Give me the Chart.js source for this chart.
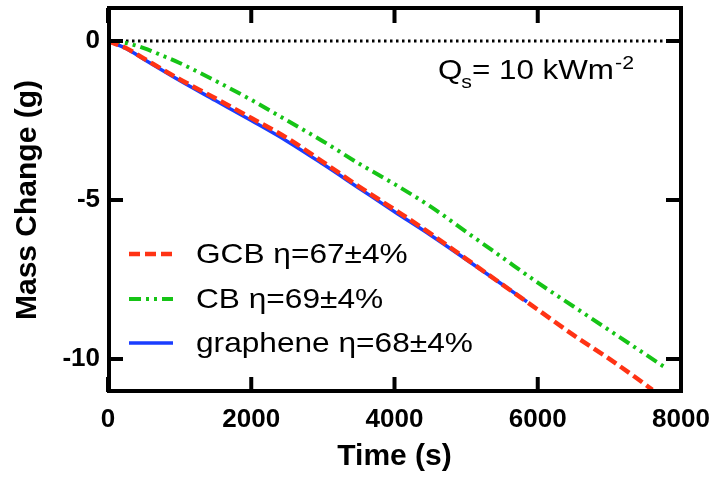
<!DOCTYPE html>
<html lang="en">
<head>
<meta charset="UTF-8">
<title>Mass Change</title>
<script src="https://cdn.jsdelivr.net/npm/chart.js"></script>
<style>
  html, body { margin: 0; padding: 0; background: #fff; }
  #wrap { width: 715px; height: 479px; }
</style>
</head>
<body>
<div id="wrap"><canvas id="massChart" width="715" height="479"></canvas></div>
<script>
// Messwerte (Zeit in s, Massenänderung in g)
const timeGCB = [0, 250, 500, 1000, 1500, 2000, 2500, 3000, 3500, 4000, 4500, 5000, 5500, 6000, 6500, 7000, 7500, 7600];
const massGCB = [0, -0.22, -0.55, -1.2, -1.8, -2.42, -3.05, -3.8, -4.57, -5.3, -6.05, -6.85, -7.65, -8.45, -9.25, -10.0, -10.8, -10.97];

const timeCB = [0, 250, 500, 750, 1000, 1500, 2000, 2500, 3000, 3500, 4000, 4500, 5000, 5500, 6000, 6500, 7000, 7500, 7800];
const massCB = [0, -0.06, -0.22, -0.45, -0.69, -1.25, -1.85, -2.5, -3.15, -3.85, -4.5, -5.2, -6.0, -6.8, -7.6, -8.35, -9.1, -9.85, -10.3];

const timeGraphene = [0, 250, 500, 1000, 1500, 2000, 2500, 3000, 3500, 4000, 4500, 5000, 5500, 5850];
const massGraphene = [0, -0.23, -0.57, -1.24, -1.87, -2.5, -3.15, -3.87, -4.62, -5.37, -6.1, -6.87, -7.65, -8.2];

const timeZero = [0, 7750];
const massZero = [0, 0];

const xTicks = [0, 2000, 4000, 6000, 8000];
const yTicks = [-10, -5, 0];

const legendLabels = ['GCB η=67±4%', 'CB η=69±4%', 'graphene η=68±4%'];

const FONT = "'Liberation Sans', Arial, sans-serif";

function pts(xs, ys) {
  return xs.map((x, i) => ({ x: x, y: ys[i] }));
}

// Rahmen mit Ticks nach innen, auf allen vier Seiten
const framePlugin = {
  id: 'frame',
  afterDatasetsDraw(chart) {
    const ctx = chart.ctx;
    const a = chart.chartArea;
    const xs = chart.scales.x, ys = chart.scales.y;
    const tl = 15;
    ctx.save();
    ctx.strokeStyle = '#000';
    ctx.lineWidth = 4;
    ctx.lineCap = 'butt';
    ctx.strokeRect(a.left + 1, a.top, a.right - a.left - 1, a.bottom - a.top - 1);
    ctx.beginPath();
    xTicks.forEach(v => {
      const px = xs.getPixelForValue(v);
      ctx.moveTo(px, a.bottom); ctx.lineTo(px, a.bottom - tl);
      ctx.moveTo(px, a.top); ctx.lineTo(px, a.top + tl);
    });
    yTicks.forEach(v => {
      const py = ys.getPixelForValue(v);
      ctx.moveTo(a.left, py); ctx.lineTo(a.left + tl, py);
      ctx.moveTo(a.right, py); ctx.lineTo(a.right - tl, py);
    });
    ctx.stroke();
    ctx.restore();
  }
};

// Legende und Beschriftung innerhalb der Zeichenfläche
const notesPlugin = {
  id: 'notes',
  afterDraw(chart) {
    const ctx = chart.ctx;
    const rows = [254, 299, 343];
    ctx.save();
    legendLabels.forEach((txt, i) => {
      const ds = chart.data.datasets[i];
      const y = rows[i];
      ctx.strokeStyle = ds.borderColor;
      ctx.lineWidth = ds.borderWidth;
      ctx.setLineDash(ds.borderDash || []);
      ctx.beginPath();
      ctx.moveTo(129, y);
      ctx.lineTo(173, y);
      ctx.stroke();
      ctx.setLineDash([]);
      ctx.fillStyle = '#000';
      ctx.font = '28px ' + FONT;
      ctx.textBaseline = 'middle';
      ctx.save();
      ctx.translate(196, y + 1);
      ctx.scale(1.13, 1);
      ctx.fillText(txt, 0, 0);
      ctx.restore();
    });

    // Q_s = 10 kWm^-2
    ctx.save();
    ctx.translate(438, 79);
    ctx.scale(1.12, 1);
    ctx.fillStyle = '#000';
    ctx.textBaseline = 'alphabetic';
    let x = 0;
    ctx.font = '28px ' + FONT;
    ctx.fillText('Q', x, 0); x += ctx.measureText('Q').width;
    ctx.font = '19px ' + FONT;
    ctx.fillText('s', x - 1, 9); x += ctx.measureText('s').width - 1;
    ctx.font = '28px ' + FONT;
    ctx.fillText('= 10 kWm', x, 0); x += ctx.measureText('= 10 kWm').width;
    ctx.font = '19px ' + FONT;
    ctx.fillText('-2', x + 1, -10);
    ctx.restore();
    ctx.restore();
  }
};

const ctx = document.getElementById('massChart').getContext('2d');
const massChart = new Chart(ctx, {
  type: 'line',
  data: {
    datasets: [
      {
        label: legendLabels[0],
        data: pts(timeGCB, massGCB),
        borderColor: '#ff3314',
        borderWidth: 4.5,
        borderDash: [11, 5],
        order: 0
      },
      {
        label: legendLabels[1],
        data: pts(timeCB, massCB),
        borderColor: '#16c416',
        borderWidth: 4,
        borderDash: [12, 5, 3, 5, 3, 5],
        order: 1
      },
      {
        label: legendLabels[2],
        data: pts(timeGraphene, massGraphene),
        borderColor: '#1a3dff',
        borderWidth: 3.5,
        order: 2
      },
      {
        label: 'zero',
        data: pts(timeZero, massZero),
        borderColor: '#000',
        borderWidth: 3,
        borderDash: [2.5, 3.5],
        tension: 0,
        order: 3
      }
    ]
  },
  options: {
    responsive: false,
    animation: false,
    devicePixelRatio: 1,
    layout: { padding: { top: 8, right: 34, left: 0, bottom: 0 } },
    elements: {
      point: { radius: 0 },
      line: { tension: 0.4, cubicInterpolationMode: 'monotone', fill: false, borderCapStyle: 'butt' }
    },
    plugins: {
      legend: { display: false },
      tooltip: { enabled: false }
    },
    scales: {
      x: {
        type: 'linear',
        min: 0,
        max: 8000,
        afterBuildTicks(scale) { scale.ticks = xTicks.map(v => ({ value: v })); },
        afterFit(scale) {
          scale.height = 87;
          scale.paddingLeft = 0;
          scale.paddingRight = 0;
        },
        grid: { display: false, drawTicks: false },
        border: { display: false },
        ticks: {
          padding: 12,
          color: '#000',
          font: { family: FONT, size: 26, weight: 'bold' },
          callback: v => String(v)
        },
        title: {
          display: true,
          text: 'Time (s)',
          color: '#000',
          font: { family: FONT, size: 30, weight: 'bold' },
          padding: { top: 0, bottom: 4 }
        }
      },
      y: {
        type: 'linear',
        min: -11.04,
        max: 1.04,
        afterBuildTicks(scale) { scale.ticks = yTicks.map(v => ({ value: v })); },
        afterFit(scale) {
          scale.width = 108;
          scale.paddingTop = 0;
          scale.paddingBottom = 0;
        },
        grid: { display: false, drawTicks: false },
        border: { display: false },
        ticks: {
          padding: 8,
          color: '#000',
          font: { family: FONT, size: 26, weight: 'bold' },
          callback: v => String(v)
        },
        title: {
          display: true,
          text: 'Mass Change (g)',
          color: '#000',
          font: { family: FONT, size: 30, weight: 'bold' },
          padding: { top: 10, bottom: 0 }
        }
      }
    }
  },
  plugins: [framePlugin, notesPlugin]
});
</script>
</body>
</html>
